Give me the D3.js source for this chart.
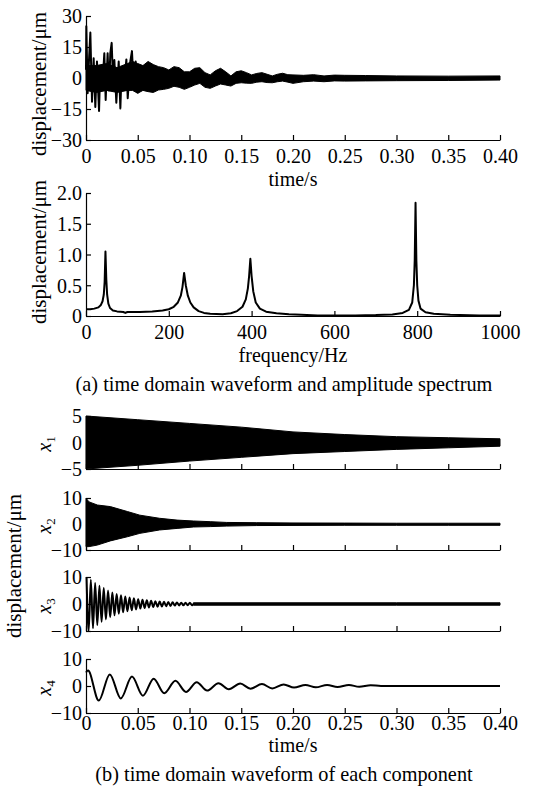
<!DOCTYPE html>
<html>
<head>
<meta charset="utf-8">
<script src="https://cdn.jsdelivr.net/npm/d3@7"></script>
<style>
  body { margin: 0; background: #fff; }
  text { font-family: "Liberation Serif", "Times New Roman", serif; fill: #000; }
</style>
</head>
<body>
<div id="chart"></div>
<script>
// ---- data ----
const timeTicks = [0, 0.05, 0.10, 0.15, 0.20, 0.25, 0.30, 0.35, 0.40];
const timeTickLabels = ["0", "0.05", "0.10", "0.15", "0.20", "0.25", "0.30", "0.35", "0.40"];
const freqTicks = [0, 200, 400, 600, 800, 1000];

// (a) measured signal: big early swings (line)
const rawT = [0, 0.0003, 0.0016, 0.0029, 0.0042, 0.0058, 0.0074, 0.009, 0.0106, 0.0126, 0.0138, 0.0158,
  0.0177, 0.019, 0.0209, 0.0222, 0.0235, 0.0248, 0.0261, 0.0274, 0.0293, 0.0316, 0.0332, 0.0345,
  0.0364, 0.039, 0.0403, 0.0428, 0.0444, 0.0461, 0.048, 0.05];
const rawV = [4, 25, -7.4, 8.7, 22, -11.5, 9.5, -14, 8, -16, 5.5, -4,
  12, -10.6, 12, -6, 12, 17, -1, 8.7, -12, 8, -14.7, 5,
  -5.8, 9, -9.8, 8, 13, -4, 8, -7.4];
// (a) measured signal: dense part drawn as a band
const rawBandT = [0, 0.01, 0.02, 0.03, 0.04, 0.045, 0.05, 0.055, 0.06, 0.065, 0.07, 0.075, 0.08, 0.085,
  0.09, 0.095, 0.10, 0.105, 0.11, 0.115, 0.12, 0.125, 0.13, 0.135, 0.14, 0.145, 0.15, 0.155, 0.16,
  0.165, 0.17, 0.175, 0.18, 0.185, 0.19, 0.195, 0.20, 0.21, 0.22, 0.23, 0.24, 0.25, 0.27, 0.30, 0.35, 0.40];
const rawBandHi = [6, 6, 7, 5, 7, 8, 7, 6, 8, 6.5, 5.5, 5, 3.9, 5.5,
  5, 3, 3, 4.7, 5, 2.6, 1.5, 3.5, 4.7, 3, 1, 3, 3.5, 2.6, 1.5,
  2.2, 2.6, 1.8, 1.0, 1.8, 2.3, 1.6, 1.5, 1.3, 1.6, 1.0, 1.4, 1.3, 1.2, 1.0, 0.9, 1.0];
const rawBandLo = [-6, -7, -6, -7, -6, -6, -7.4, -6, -6.6, -7, -5.8, -5.5, -5, -4,
  -4.5, -5.5, -4.5, -3.4, -2.6, -4.5, -5, -3.9, -2.9, -3.4, -3.9, -2.6, -2.3, -2.5, -2.6,
  -2.0, -1.8, -2.2, -2.3, -1.8, -1.5, -2.0, -2.6, -1.8, -1.5, -1.8, -1.4, -1.5, -1.4, -1.3, -1.2, -1.0];

// (a) amplitude spectrum
const specF = [0, 10, 20, 30, 36, 40, 43, 45, 47, 49, 51, 54, 58, 65, 75, 90, 95, 100, 130, 160, 185,
  200, 212, 222, 229, 233, 237, 241, 246, 252, 260, 272, 285, 300, 330, 350, 365, 378, 386, 391, 394,
  397, 400, 404, 410, 420, 435, 460, 490, 520, 560, 650, 700, 740, 765, 780, 788, 792, 794, 796, 798,
  800, 803, 808, 820, 840, 880, 950, 1000];
const specA = [0.11, 0.11, 0.12, 0.14, 0.18, 0.24, 0.35, 0.55, 1.05, 0.6, 0.35, 0.2, 0.13, 0.09, 0.075, 0.065, 0.05, 0.065, 0.065, 0.075, 0.09,
  0.11, 0.15, 0.22, 0.33, 0.47, 0.70, 0.50, 0.33, 0.22, 0.14, 0.08, 0.05, 0.035, 0.03, 0.045, 0.08, 0.15, 0.27, 0.45, 0.65,
  0.93, 0.65, 0.4, 0.22, 0.12, 0.07, 0.045, 0.03, 0.02, 0.01, 0.01, 0.015, 0.025, 0.05, 0.1, 0.22, 0.5, 0.9, 1.84, 0.9,
  0.5, 0.25, 0.12, 0.06, 0.035, 0.02, 0.01, 0.01];

// (b) x1: too dense to resolve, a band
const x1T = [0, 0.05, 0.10, 0.15, 0.20, 0.25, 0.30, 0.35, 0.40];
const x1Hi = [5.0, 4.3, 3.6, 2.9, 2.0, 1.5, 1.1, 0.9, 0.7];
const x1Lo = [-5.0, -4.3, -3.5, -2.8, -2.1, -1.7, -1.3, -1.0, -0.7];

// (b) x2: band
const x2T = [0, 0.003, 0.011, 0.0235, 0.04, 0.052, 0.071, 0.088, 0.104, 0.12, 0.136, 0.165, 0.2, 0.25, 0.3, 0.35, 0.4];
const x2Hi = [9.9, 8.5, 7.3, 6.7, 4.8, 3.4, 2.2, 1.5, 1.15, 0.9, 0.6, 0.5, 0.4, 0.35, 0.3, 0.3, 0.3];
const x2Lo = [-8.7, -8.7, -8.1, -6.5, -4.9, -3.6, -2.3, -1.7, -1.15, -1.0, -0.8, -0.6, -0.55, -0.5, -0.5, -0.5, -0.5];

// (b) x3: successive peaks/troughs (half-period sampling), then a thin ripple band
const x3Start = 0.0005;
const x3Step = 0.00208;
const x3V = [10.0, -10.0, 9.0, -9.0, 7.8, -7.8, 6.8, -6.6, 5.9, -5.7, 5.0, -4.9, 4.3, -4.2, 3.7, -3.6,
  3.2, -3.1, 2.8, -2.7, 2.4, -2.3, 2.1, -2.0, 1.8, -1.7, 1.6, -1.5, 1.4, -1.3, 1.2, -1.1, 1.05, -1.0,
  0.9, -0.9, 0.8, -0.8, 0.7, -0.7, 0.65, -0.6, 0.6, -0.55, 0.5, -0.5, 0.5, -0.45, 0.45, -0.45, 0.4];
const x3BandT = [0.104, 0.2, 0.3, 0.4];
const x3BandHi = [0.45, 0.45, 0.45, 0.45];
const x3BandLo = [-0.45, -0.45, -0.45, -0.45];

// (b) x4: peaks and troughs
const x4T = [0, 0.002, 0.0123, 0.023, 0.0336, 0.0444, 0.055, 0.0654, 0.0756, 0.0864, 0.0966, 0.107, 0.117,
  0.128, 0.138, 0.149, 0.159, 0.170, 0.180, 0.191, 0.201, 0.212, 0.222, 0.233, 0.243, 0.254, 0.264,
  0.275, 0.285, 0.29, 0.40];
const x4V = [5.0, 5.7, -5.4, 4.3, -4.6, 3.5, -3.6, 2.7, -2.7, 1.9, -2.2, 1.4, -1.7,
  1.0, -1.2, 0.9, -1.0, 0.7, -0.9, 0.6, -0.6, 0.4, -0.5, 0.4, -0.4, 0.4, -0.3,
  0.3, 0, 0, 0];

// ---- drawing ----
const width = 546, height = 803;
const svg = d3.select("#chart").append("svg")
  .attr("width", width)
  .attr("height", height);

const xTime = d3.scaleLinear().domain([0, 0.4]).range([86, 500]);
const xFreq = d3.scaleLinear().domain([0, 1000]).range([86, 500]);

const tickFont = 20;

function drawAxes(x, y, opts) {
  const g = svg.append("g");
  const yBottom = y.range()[0];
  const xAxis = d3.axisBottom(x)
    .tickValues(opts.xTicks)
    .tickSizeInner(-5)
    .tickSizeOuter(0)
    .tickPadding(opts.xPad || 9)
    .tickFormat((d, i) => opts.xLabels ? opts.xLabels[i] : "");
  const xg = g.append("g")
    .attr("transform", `translate(0,${yBottom})`)
    .call(xAxis);
  const yAxis = d3.axisLeft(y)
    .tickValues(opts.yTicks)
    .tickSizeInner(-5)
    .tickSizeOuter(0)
    .tickPadding(4)
    .tickFormat((d, i) => opts.yLabels[i]);
  const yg = g.append("g")
    .attr("transform", `translate(${x.range()[0]},0)`)
    .call(yAxis);
  [xg, yg].forEach(a => {
    a.selectAll("path, line").attr("stroke", "#000").attr("stroke-width", 1.2);
    a.selectAll("text")
      .style("font-family", '"Liberation Serif", "Times New Roman", serif')
      .style("font-size", tickFont + "px")
      .attr("fill", "#000");
  });
  yg.selectAll("text").attr("dy", "0.34em");
}

function band(x, y, t, hi, lo) {
  const area = d3.area()
    .x(d => x(d[0]))
    .y0(d => y(d[2]))
    .y1(d => y(d[1]));
  svg.append("path")
    .datum(d3.zip(t, hi, lo))
    .attr("d", area)
    .attr("fill", "#000")
    .attr("stroke", "#000")
    .attr("stroke-width", 1);
}

function line(x, y, t, v, curve) {
  const gen = d3.line()
    .x(d => x(d[0]))
    .y(d => y(d[1]))
    .curve(curve || d3.curveLinear);
  svg.append("path")
    .datum(d3.zip(t, v))
    .attr("d", gen)
    .attr("fill", "none")
    .attr("stroke", "#000")
    .attr("stroke-width", 2)
    .attr("stroke-linejoin", "round");
}

function rotLabel(x, y, txt, size) {
  svg.append("text")
    .attr("transform", `translate(${x},${y}) rotate(-90)`)
    .attr("text-anchor", "middle")
    .style("font-size", size + "px")
    .text(txt);
}

function subLabel(x, y, num) {
  const t = svg.append("text")
    .attr("transform", `translate(${x},${y}) rotate(-90)`)
    .attr("text-anchor", "middle")
    .style("font-size", "20px");
  t.append("tspan").style("font-style", "italic").text("x");
  t.append("tspan").attr("dy", "0.3em").style("font-size", "13px").text(num);
}

function centerText(x, y, txt, size) {
  svg.append("text")
    .attr("x", x).attr("y", y)
    .attr("text-anchor", "middle")
    .style("font-size", size + "px")
    .text(txt);
}

// panel 1: raw time signal
const yRaw = d3.scaleLinear().domain([-30, 30]).range([140, 16]);
band(xTime, yRaw, rawBandT, rawBandHi, rawBandLo);
line(xTime, yRaw, rawT, rawV);
drawAxes(xTime, yRaw, {
  xTicks: timeTicks, xLabels: timeTickLabels,
  yTicks: [-30, -15, 0, 15, 30], yLabels: ["\u221230", "\u221215", "0", "15", "30"]
});
rotLabel(46, 84, "displacement/\u03bcm", 21);
centerText(293, 186, "time/s", 20);

// panel 2: spectrum
const ySpec = d3.scaleLinear().domain([0, 2]).range([316, 193]);
line(xFreq, ySpec, specF, specA);
drawAxes(xFreq, ySpec, {
  xTicks: freqTicks, xLabels: freqTicks.map(String),
  yTicks: [0, 0.5, 1, 1.5, 2], yLabels: ["0", "0.5", "1.0", "1.5", "2.0"]
});
rotLabel(46, 252, "displacement/\u03bcm", 21);
centerText(293, 362, "frequency/Hz", 20);
centerText(284, 391, "(a) time domain waveform and amplitude spectrum", 20.3);

// panels (b)
const y1 = d3.scaleLinear().domain([-5, 5]).range([469, 416]);
const y2 = d3.scaleLinear().domain([-10, 10]).range([550, 498]);
const y3 = d3.scaleLinear().domain([-10, 10]).range([631, 577]);
const y4 = d3.scaleLinear().domain([-10, 10]).range([713, 659]);

band(xTime, y1, x1T, x1Hi, x1Lo);
drawAxes(xTime, y1, { xTicks: timeTicks, yTicks: [-5, 0, 5], yLabels: ["\u22125", "0", "5"] });

band(xTime, y2, x2T, x2Hi, x2Lo);
drawAxes(xTime, y2, { xTicks: timeTicks, yTicks: [-10, 0, 10], yLabels: ["\u221210", "0", "10"] });

const x3T = x3V.map((v, i) => x3Start + i * x3Step);
line(xTime, y3, x3T, x3V, d3.curveMonotoneX);
band(xTime, y3, x3BandT, x3BandHi, x3BandLo);
drawAxes(xTime, y3, { xTicks: timeTicks, yTicks: [-10, 0, 10], yLabels: ["\u221210", "0", "10"] });

line(xTime, y4, x4T, x4V, d3.curveMonotoneX);
drawAxes(xTime, y4, {
  xTicks: timeTicks, xLabels: timeTickLabels, xPad: 3,
  yTicks: [-10, 0, 10], yLabels: ["\u221210", "0", "10"]
});

subLabel(51, 444, "1");
subLabel(51, 526, "2");
subLabel(51, 606, "3");
subLabel(51, 688, "4");
rotLabel(21, 566, "displacement/\u03bcm", 21);
centerText(293, 752, "time/s", 20);
centerText(284, 781, "(b) time domain waveform of each component", 20.3);
</script>
</body>
</html>
